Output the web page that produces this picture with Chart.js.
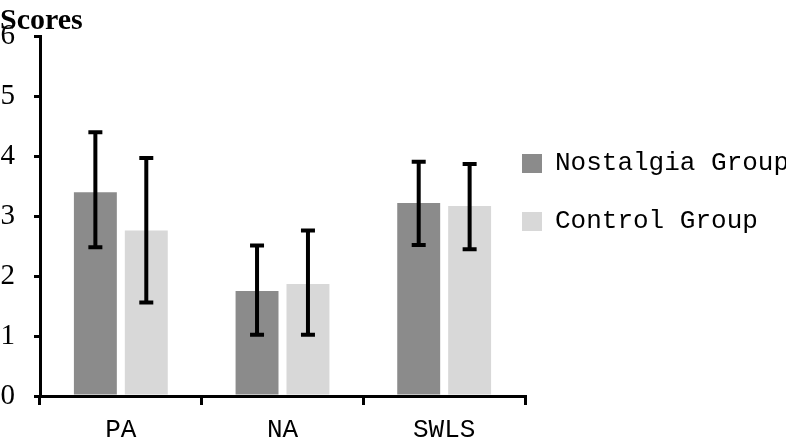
<!DOCTYPE html>
<html>
<head>
<meta charset="utf-8">
<script src="https://cdn.jsdelivr.net/npm/chart.js@4"></script>
<style>
  html, body { margin: 0; padding: 0; background: #fff; }
  #wrap { width: 786px; height: 445px; }
</style>
</head>
<body>
<div id="wrap"><canvas id="myChart" width="786" height="445"></canvas></div>
<script>
"use strict";

// values
let categories = ["PA", "NA", "SWLS"];
let seriesNames = ["Nostalgia Group", "Control Group"];
let nostalgiaMeans = [3.40, 1.75, 3.22];
let nostalgiaUpper = [4.40, 2.51, 3.91];
let nostalgiaLower = [2.48, 1.02, 2.52];
let controlMeans = [2.76, 1.87, 3.17];
let controlUpper = [3.97, 2.76, 3.87];
let controlLower = [1.56, 1.02, 2.45];
let yTicks = [0, 1, 2, 3, 4, 5, 6];

// error bars drawn through the y scale
const errorBars = {
  id: "errorBars",
  afterDatasetsDraw(chart) {
    const ctx = chart.ctx;
    const yScale = chart.scales.y;
    chart.data.datasets.forEach(function (ds, di) {
      const meta = chart.getDatasetMeta(di);
      meta.data.forEach(function (bar, i) {
        const top = yScale.getPixelForValue(ds.errUpper[i]);
        const bottom = yScale.getPixelForValue(ds.errLower[i]);
        const x = bar.x;
        ctx.save();
        ctx.strokeStyle = "#000";
        ctx.lineWidth = 4;
        ctx.beginPath();
        ctx.moveTo(x, top);
        ctx.lineTo(x, bottom);
        ctx.moveTo(x - 7, top);
        ctx.lineTo(x + 7, top);
        ctx.moveTo(x - 7, bottom);
        ctx.lineTo(x + 7, bottom);
        ctx.stroke();
        ctx.restore();
      });
    });
  },
};

// put the legend right against the plot, lower down
const legendShift = {
  id: "legendShift",
  afterLayout(chart) {
    const lg = chart.legend;
    if (!lg) return;
    const pad = lg.options.labels.padding;
    lg.left = chart.chartArea.right - 3 - pad;
    lg.right = chart.width + 60;
    lg.width = lg.right - lg.left;
    lg.top = chart.chartArea.top + 82;
  },
};

const data = {
  labels: categories,
  datasets: [
    {
      label: seriesNames[0],
      data: nostalgiaMeans,
      errUpper: nostalgiaUpper,
      errLower: nostalgiaLower,
      backgroundColor: "#8b8b8b",
      borderWidth: 0,
    },
    {
      label: seriesNames[1],
      data: controlMeans,
      errUpper: controlUpper,
      errLower: controlLower,
      backgroundColor: "#d8d8d8",
      borderWidth: 0,
    },
  ],
};

const config = {
  type: "bar",
  data: data,
  options: {
    responsive: false,
    animation: false,
    categoryPercentage: 0.63,
    barPercentage: 0.843,
    layout: { padding: { top: -3, left: 0, right: 0, bottom: 0 } },
    scales: {
      x: {
        grid: {
          offset: true,
          drawOnChartArea: false,
          color: "#000",
          lineWidth: 3,
          tickLength: 9,
        },
        border: { color: "#000", width: 3 },
        ticks: {
          color: "#000",
          padding: 10,
          font: { family: "Liberation Mono", size: 26 },
        },
        afterFit(scale) {
          scale.height = 49;
        },
      },
      y: {
        min: 0,
        max: 6,
        afterBuildTicks(scale) {
          scale.ticks = yTicks.map(function (v) { return { value: v }; });
        },
        grid: {
          drawOnChartArea: false,
          color: "#000",
          lineWidth: 3,
          tickLength: 6,
        },
        border: { color: "#000", width: 3 },
        ticks: {
          color: "#000",
          padding: 19,
          font: { family: "Liberation Serif", size: 29 },
        },
        afterFit(scale) {
          scale.width = 40;
        },
      },
    },
    plugins: {
      title: {
        display: true,
        text: "Scores",
        align: "start",
        color: "#000",
        font: { family: "Liberation Serif", size: 30, weight: "bold", lineHeight: 1.0 },
        padding: { top: 0, bottom: 0 },
      },
      legend: {
        position: "right",
        align: "start",
        maxWidth: 261,
        labels: {
          boxWidth: 20,
          boxHeight: 19,
          padding: 32,
          color: "#000",
          font: { family: "Liberation Mono", size: 26 },
        },
      },
      tooltip: { enabled: false },
    },
  },
  plugins: [errorBars, legendShift],
};

const canvasChart = document.getElementById("myChart");
new Chart(canvasChart, config);
</script>
</body>
</html>
